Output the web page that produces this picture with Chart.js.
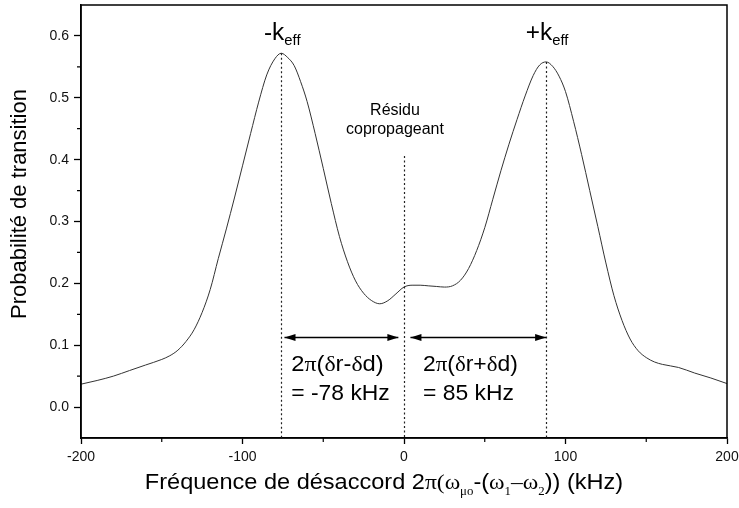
<!DOCTYPE html>
<html>
<head>
<meta charset="utf-8">
<script src="https://cdn.jsdelivr.net/npm/chart.js@4"></script>
<style>
html, body { margin: 0; padding: 0; background: #fff; }
#wrap { width: 739px; height: 508px; }
</style>
</head>
<body>
<div id="wrap"><canvas id="chartKu"></canvas></div>
<script>
// desaccord (kHz) et probabilite de transition
const freq = [-200, -190, -180, -170, -160, -150, -145, -140, -135, -130, -125, -120, -115, -110, -105, -100,
  -95, -90, -85, -80, -76, -72, -68, -64, -60, -55, -50, -45, -40, -35, -30, -25, -20, -15, -10, -5,
  0, 5, 10, 15, 20, 25, 30, 35, 40, 45, 50, 55, 60, 65, 70, 75, 80, 84, 88, 92, 96, 100, 105, 110,
  115, 120, 125, 130, 135, 140, 145, 150, 155, 160, 170, 180, 190, 200]
const prob = [0.037, 0.043, 0.050, 0.059, 0.068, 0.077, 0.083, 0.092, 0.106, 0.125, 0.153, 0.190, 0.240, 0.288, 0.338, 0.390,
  0.442, 0.493, 0.537, 0.563, 0.572, 0.565, 0.552, 0.526, 0.494, 0.442, 0.386, 0.329, 0.276, 0.235, 0.204, 0.184, 0.172, 0.167, 0.172, 0.183,
  0.194, 0.197, 0.197, 0.196, 0.195, 0.194, 0.196, 0.205, 0.224, 0.253, 0.290, 0.336, 0.382, 0.425, 0.465, 0.503, 0.536, 0.553, 0.558, 0.551, 0.535, 0.510, 0.462, 0.408,
  0.350, 0.292, 0.233, 0.180, 0.140, 0.110, 0.091, 0.080, 0.073, 0.069, 0.064, 0.055, 0.047, 0.038]

const xTicks = [-200, -100, 0, 100, 200]
const xMinor = [-150, -50, 50, 150]
const yTicks = [0, 0.1, 0.2, 0.3, 0.4, 0.5, 0.6]
const yMinor = [0.05, 0.15, 0.25, 0.35, 0.45, 0.55]

// raies et residu
const peakNeg = -76, peakNegVal = 0.572
const peakPos = 88, peakPosVal = 0.558
const residu = 0, residuTop = 0.406
const arrowY = 0.1125

const sans = '"Liberation Sans", Arial, sans-serif'
const serif = '"Liberation Serif", "Times New Roman", serif'

function rich(ctx, x, y, parts, align, sx) {
  sx = sx || 1
  let w = 0
  parts.forEach(p => { ctx.font = p.f; w += ctx.measureText(p.t).width })
  w *= sx
  if (align === 'center') x -= w / 2
  ctx.save()
  ctx.translate(x, y)
  ctx.scale(sx, 1)
  let cx = 0
  parts.forEach(p => {
    ctx.font = p.f
    ctx.fillText(p.t, cx, p.dy || 0)
    cx += ctx.measureText(p.t).width
  })
  ctx.restore()
}

function arrowHead(ctx, x, y, dir) {
  ctx.beginPath()
  ctx.moveTo(x, y)
  ctx.lineTo(x - dir * 11, y - 3.5)
  ctx.lineTo(x - dir * 11, y + 3.5)
  ctx.closePath()
  ctx.fill()
}

const decor = {
  id: 'decor',
  afterDraw(chart) {
    const ctx = chart.ctx
    const a = chart.chartArea
    const xs = chart.scales.x, ys = chart.scales.y
    ctx.save()
    // cadre
    ctx.strokeStyle = '#000'
    ctx.lineWidth = 1.5
    ctx.strokeRect(a.left, a.top, a.right - a.left, a.bottom - a.top)
    // petites graduations
    ctx.lineWidth = 1.2
    ctx.beginPath()
    xMinor.forEach(v => {
      const px = xs.getPixelForValue(v)
      ctx.moveTo(px, a.bottom); ctx.lineTo(px, a.bottom + 4)
    })
    yMinor.forEach(v => {
      const py = ys.getPixelForValue(v)
      ctx.moveTo(a.left, py); ctx.lineTo(a.left - 4, py)
    })
    ctx.stroke()

    // lignes pointillees
    ctx.strokeStyle = '#222'
    ctx.lineWidth = 1.2
    ctx.setLineDash([2, 2.5])
    ctx.beginPath()
    ;[[peakNeg, peakNegVal], [peakPos, peakPosVal], [residu, residuTop]].forEach(([v, top]) => {
      const px = Math.round(xs.getPixelForValue(v)) + 0.5
      ctx.moveTo(px, ys.getPixelForValue(top)); ctx.lineTo(px, a.bottom)
    })
    ctx.stroke()
    ctx.setLineDash([])

    // fleches
    const ay = ys.getPixelForValue(arrowY)
    const l1 = xs.getPixelForValue(peakNeg + 2), r1 = xs.getPixelForValue(residu - 3.5)
    const l2 = xs.getPixelForValue(residu + 4), r2 = xs.getPixelForValue(peakPos)
    ctx.strokeStyle = '#000'
    ctx.fillStyle = '#000'
    ctx.lineWidth = 1.3
    ctx.beginPath()
    ctx.moveTo(l1, ay); ctx.lineTo(r1, ay)
    ctx.moveTo(l2, ay); ctx.lineTo(r2, ay)
    ctx.stroke()
    arrowHead(ctx, l1, ay, -1); arrowHead(ctx, r1, ay, 1)
    arrowHead(ctx, l2, ay, -1); arrowHead(ctx, r2, ay, 1)

    // textes
    ctx.fillStyle = '#000'
    ctx.textBaseline = 'alphabetic'
    ctx.textAlign = 'left'
    rich(ctx, xs.getPixelForValue(peakNeg) + 1, 40, [
      { t: '-k', f: '23px ' + sans }, { t: 'eff', f: '14px ' + sans, dy: 5 }], 'center', 1.06)
    rich(ctx, xs.getPixelForValue(peakPos) + 1, 40, [
      { t: '+k', f: '23px ' + sans }, { t: 'eff', f: '14px ' + sans, dy: 5 }], 'center', 1.06)
    rich(ctx, xs.getPixelForValue(residu) - 9, 115, [{ t: 'Résidu', f: '16px ' + sans }], 'center')
    rich(ctx, xs.getPixelForValue(residu) - 9, 134, [{ t: 'copropageant', f: '16px ' + sans }], 'center')

    const f = '22px ' + sans, fs = '22px ' + serif
    const lx = xs.getPixelForValue(peakNeg) + 10
    rich(ctx, lx, 371, [{ t: '2', f: f }, { t: 'π', f: fs }, { t: '(', f: f }, { t: 'δ', f: fs },
      { t: 'r-', f: f }, { t: 'δ', f: fs }, { t: 'd)', f: f }], 'left', 1.08)
    rich(ctx, lx, 400, [{ t: '= -78 kHz', f: f }], 'left', 1.04)
    const rx = xs.getPixelForValue(residu) + 19
    rich(ctx, rx, 371, [{ t: '2', f: f }, { t: 'π', f: fs }, { t: '(', f: f }, { t: 'δ', f: fs },
      { t: 'r+', f: f }, { t: 'δ', f: fs }, { t: 'd)', f: f }], 'left', 1.04)
    rich(ctx, rx, 400, [{ t: '= 85 kHz', f: f }], 'left', 1.04)

    // titres des axes
    const ft = '22px ' + sans, fts = '22px ' + serif, sub = '12px ' + serif
    rich(ctx, 384, 489, [
      { t: 'Fréquence de désaccord 2', f: ft }, { t: 'π(ω', f: fts }, { t: 'μo', f: sub, dy: 6 },
      { t: '-(', f: ft }, { t: 'ω', f: fts }, { t: '1', f: sub, dy: 6 }, { t: '–', f: fts },
      { t: 'ω', f: fts }, { t: '2', f: sub, dy: 6 }, { t: ')) (kHz)', f: ft }], 'center', 1.07)

    ctx.translate(20, 204)
    ctx.rotate(-Math.PI / 2)
    ctx.textAlign = 'center'
    ctx.textBaseline = 'middle'
    ctx.font = ft
    ctx.fillText('Probabilité de transition', 0, 0)
    ctx.restore()
  }
}

let ctx = document.getElementById('chartKu').getContext('2d')
let chart = new Chart(ctx, {
  type: 'line',
  data: {
    datasets: [{
      label: 'Probabilité de transition',
      data: freq.map((x, i) => ({ x: x, y: prob[i] })),
      borderColor: '#333',
      borderWidth: 1,
      pointRadius: 0,
      cubicInterpolationMode: 'monotone'
    }]
  },
  options: {
    responsive: true,
    maintainAspectRatio: false,
    animation: false,
    layout: { padding: { top: 5, right: 12, left: 0, bottom: 0 } },
    plugins: { legend: { display: false }, tooltip: { enabled: false } },
    scales: {
      x: {
        type: 'linear',
        min: -200,
        max: 200,
        afterBuildTicks: s => { s.ticks = xTicks.map(v => ({ value: v })) },
        afterFit: s => { s.height = 70; s.paddingLeft = 0; s.paddingRight = 0 },
        grid: { drawOnChartArea: false, tickLength: 6, tickColor: '#000', tickWidth: 1.3 },
        border: { color: '#000', width: 1.5 },
        ticks: { color: '#111', font: { family: sans, size: 14 }, padding: 5, maxRotation: 0,
          callback: v => String(v) }
      },
      y: {
        min: -0.05,
        max: 0.65,
        afterBuildTicks: s => { s.ticks = yTicks.map(v => ({ value: v })) },
        afterFit: s => { s.width = 81; s.paddingTop = 0; s.paddingBottom = 0 },
        grid: { drawOnChartArea: false, tickLength: 7, tickColor: '#000', tickWidth: 1.3 },
        border: { color: '#000', width: 1.5 },
        ticks: { color: '#111', font: { family: sans, size: 14 }, padding: 5,
          callback: v => v.toFixed(1) }
      }
    }
  },
  plugins: [decor]
})
</script>
</body>
</html>
